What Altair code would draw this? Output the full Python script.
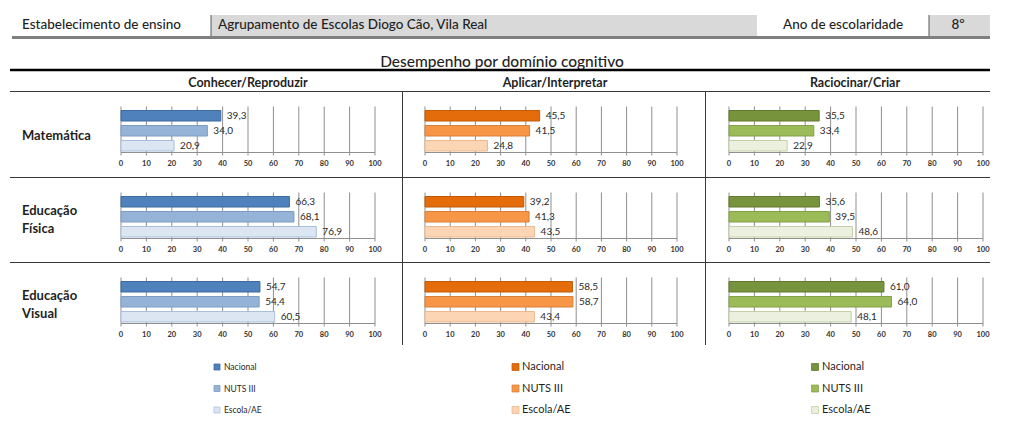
import altair as alt
import pandas as pd

# ---------------- data ----------------
subjects = ["Matemática", "Educação Física", "Educação Visual"]
subject_lines = [["Matemática"], ["Educação", "Física"], ["Educação", "Visual"]]
domains = ["Conhecer/Reproduzir", "Aplicar/Interpretar", "Raciocinar/Criar"]
series = ["Nacional", "NUTS III", "Escola/AE"]
ticks = [0, 10, 20, 30, 40, 50, 60, 70, 80, 90, 100]

# values per subject (rows) x domain (columns)
nacional = [[39.3, 45.5, 35.5], [66.3, 39.2, 35.6], [54.7, 58.5, 61.0]]
nuts3 = [[34.0, 41.5, 33.4], [68.1, 41.3, 39.5], [54.4, 58.7, 64.0]]
escola = [[20.9, 24.8, 22.9], [76.9, 43.5, 48.6], [60.5, 43.4, 48.1]]

header_left = "Estabelecimento de ensino"
header_school = "Agrupamento de Escolas Diogo Cão, Vila Real"
header_year_label = "Ano de escolaridade"
header_year = "8º"
title = "Desempenho por domínio cognitivo"

# ---------------- styles ----------------
fills = [["#4f81bd", "#95b3d7", "#dce6f2"],
         ["#e46c0a", "#f79646", "#fcd5b5"],
         ["#77933c", "#9bbb59", "#ebf1de"]]
strokes = [["#3e6a9e", "#7d9cc4", "#a9bfdc"],
           ["#c25a06", "#d9803a", "#e9b98f"],
           ["#62792f", "#84a14a", "#c3cfa6"]]

FONT = "Lato"
TXT = "#1f1f1f"
GRID = "#8f8f8f"
LINE = "#3a3a3a"

col_widths = [102, 292, 303, 287]
row_heights = [86, 85, 85]
row_offsets = [16, 0, 0]          # first row also holds the column headings
x_ranges = [[11, 265], [23, 275], [24, 278]]
dom_centers = [138, 153, 150]
Y_RANGE = [18, 61.5]
AXIS_Y = 61.5
GRID_TOP = 15.5


def dummy():
    return pd.DataFrame({"d": [0]})


def line(x, x2, y, y2, color=LINE, width=1.0):
    return alt.Chart(dummy()).mark_rule(color=color, strokeWidth=width).encode(
        x=alt.value(x), x2=alt.value(x2), y=alt.value(y), y2=alt.value(y2))


def rect(x, x2, y, y2, color):
    return alt.Chart(dummy()).mark_rect(color=color).encode(
        x=alt.value(x), x2=alt.value(x2), y=alt.value(y), y2=alt.value(y2))


def label(txt, x, y, size, weight="normal", align="left", color=TXT, lh=None):
    kw = dict(text=txt, font=FONT, fontSize=size, fontWeight=weight,
              align=align, baseline="middle", color=color)
    if lh is not None:
        kw["lineHeight"] = lh
    return alt.Chart(dummy()).mark_text(**kw).encode(x=alt.value(x), y=alt.value(y))


# ---------------- header ----------------
W = sum(col_widths)
header = alt.layer(
    rect(203, 749, 7, 29, "#d9d9d9"),
    rect(921, 982, 7, 29, "#d9d9d9"),
    line(203, 203, 7, 29, "#595959", 1),
    line(921, 921, 7, 29, "#595959", 1),
    line(4, 982, 29.5, 29.5, "#7f7f7f", 3),
    label(header_left, 14, 17, 13.5, weight=500),
    label(header_school, 210, 17, 13.5, weight=500),
    label(header_year_label, 775, 17, 13.5, weight=500),
    label(header_year, 950, 17, 13.5, weight=500, align="center"),
    label(title, 494, 54, 15.5, weight=500, align="center"),
    line(2, 982, 62, 62, "#000000", 2.5),
).properties(width=W, height=67)

# ---------------- panels ----------------
ticks_df = pd.DataFrame({"t": ticks})
span_df = pd.DataFrame({"a": [ticks[0]], "b": [ticks[-1]]})
cells = []
for r, subj in enumerate(subjects):
    off = row_offsets[r]
    h = row_heights[r] + off
    lab_y = (45 if len(subject_lines[r]) == 1 else 34) + off
    cells.append(alt.layer(
        line(2, col_widths[0], off + 0.5, off + 0.5),
        label(subject_lines[r], 14, lab_y, 13, weight="bold", lh=18),
    ).properties(width=col_widths[0], height=h))
    for c, dom in enumerate(domains):
        vals = [nacional[r][c], nuts3[r][c], escola[r][c]]
        df = pd.DataFrame({
            "series": series,
            "value": vals,
            "label": [f"{v:.1f}".replace(".", ",") for v in vals],
            "fill": fills[c],
            "stroke": strokes[c],
        })
        xs = alt.Scale(domain=[0, 100], range=x_ranges[c])
        ys = alt.Scale(domain=series, range=[Y_RANGE[0] + off, Y_RANGE[1] + off],
                       paddingInner=0.3, paddingOuter=0.1)
        w = col_widths[c + 1]
        grid = alt.Chart(ticks_df).mark_rule(color=GRID, strokeWidth=1).encode(
            x=alt.X("t:Q", scale=xs, axis=None),
            y=alt.value(GRID_TOP + off), y2=alt.value(AXIS_Y + 3 + off))
        domain_line = alt.Chart(span_df).mark_rule(color=GRID, strokeWidth=1).encode(
            x=alt.X("a:Q", scale=xs, axis=None), x2="b:Q",
            y=alt.value(AXIS_Y + off))
        tick_labels = alt.Chart(ticks_df).mark_text(
            font=FONT, fontSize=7.5, fontWeight="bold", color="#333333",
            align="center", baseline="middle").encode(
            x=alt.X("t:Q", scale=xs, axis=None),
            y=alt.value(AXIS_Y + 11.5 + off),
            text=alt.Text("t:Q", format="d"))
        bars = alt.Chart(df).mark_bar(strokeWidth=1).encode(
            x=alt.X("value:Q", scale=xs, axis=None),
            y=alt.Y("series:N", scale=ys, axis=None, sort=series),
            fill=alt.Fill("fill:N", scale=None),
            stroke=alt.Stroke("stroke:N", scale=None))
        texts = alt.Chart(df).mark_text(align="left", baseline="middle", dx=6,
                                        font=FONT, fontSize=10, color="#2a2a2a").encode(
            x=alt.X("value:Q", scale=xs, axis=None),
            y=alt.Y("series:N", scale=ys, axis=None, sort=series),
            text="label:N")
        layers = [grid, domain_line, tick_labels, bars, texts,
                  line(0, w if c < 2 else w - 2, off + 0.5, off + 0.5)]
        if c > 0:
            layers.append(line(0.5, 0.5, off, h if r < 2 else h - 2))
        if r == 0:
            layers.append(label(dom, dom_centers[c], 8, 12.5, weight="bold", align="center"))
        cells.append(alt.layer(*layers).properties(width=w, height=h))

grid_block = alt.concat(*cells, columns=4, spacing=0, bounds="flush")

# ---------------- legends ----------------
leg_sq_x = [209, 507.5, 807]
leg_tx_x = [216, 514, 814]
leg_font = [8.5, 11, 11]
leg_size = [36, 48, 48]
leg_layers = []
ly = alt.Scale(domain=series, range=[20, 63], padding=0)
for g in range(3):
    ldf = pd.DataFrame({"series": series, "fill": fills[g], "stroke": strokes[g]})
    leg_layers.append(alt.Chart(ldf).mark_square(size=leg_size[g], strokeWidth=0.8, opacity=1).encode(
        x=alt.value(leg_sq_x[g]),
        y=alt.Y("series:N", scale=ly, axis=None, sort=series),
        fill=alt.Fill("fill:N", scale=None),
        stroke=alt.Stroke("stroke:N", scale=None)))
    leg_layers.append(alt.Chart(ldf).mark_text(align="left", baseline="middle", font=FONT,
                                               fontSize=leg_font[g], color=TXT).encode(
        x=alt.value(leg_tx_x[g]),
        y=alt.Y("series:N", scale=ly, axis=None, sort=series),
        text="series:N"))
legend = alt.layer(*leg_layers).properties(width=W, height=78)

chart = alt.vconcat(header, grid_block, legend, spacing=0).properties(
    padding=0, background="white"
).configure_view(strokeWidth=0)

chart.save("out.html", embed_options={"renderer": "svg", "actions": False})
